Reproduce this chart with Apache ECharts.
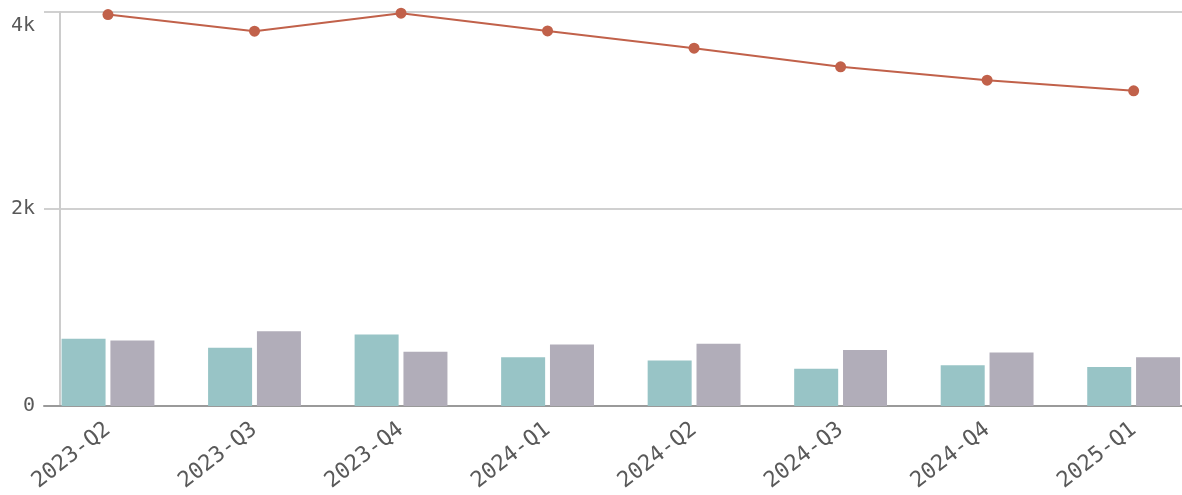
<!DOCTYPE html>
<html><head><meta charset="utf-8">
<script src="https://cdn.jsdelivr.net/npm/echarts@6/dist/echarts.min.js"></script>
<style>html,body{margin:0;padding:0;background:#fff}#c{width:1182px;height:495px}</style>
</head><body><div id="c"></div>
<script>
const categories = ['2023-Q2','2023-Q3','2023-Q4','2024-Q1','2024-Q2','2024-Q3','2024-Q4','2025-Q1'];
const barA = [682, 591, 725, 495, 461, 377, 413, 397];
const barB = [666, 760, 550, 624, 631, 568, 542, 495];
const lineC = [3974, 3805, 3988, 3808, 3633, 3443, 3308, 3200];

const idx = categories.map((_, i) => i);
const pair = arr => arr.map((v, i) => [i, v]);
const font = '"DejaVu Sans Mono", monospace';

const chart = echarts.init(document.getElementById('c'), null, {renderer: 'canvas'});
chart.setOption({
  animation: false,
  grid: {left: 44, right: 0, top: 12, bottom: 89, containLabel: false},
  xAxis: {
    type: 'value', min: -0.4367, max: 7.33,
    axisLine: {show: true, onZero: false, lineStyle: {color: '#9a9a9a', width: 2}},
    axisTick: {show: false},
    splitLine: {show: false},
    axisLabel: {
      customValues: idx,
      formatter: v => categories[Math.round(v)] || '',
      rotate: 38, color: '#595959', fontSize: 22, fontFamily: font, margin: 21
    }
  },
  yAxis: {
    type: 'value', min: 0, max: 4000, interval: 2000, offset: -16,
    axisLine: {show: true, onZero: false, lineStyle: {color: '#cccccc', width: 2}},
    axisTick: {show: false},
    splitLine: {show: true, lineStyle: {color: '#d0d0d0', width: 2}},
    axisLabel: {
      color: '#595959', fontSize: 20, fontFamily: font, margin: 25,
      lineHeight: 28,
      verticalAlignMaxLabel: 'top',
      formatter: v => v === 0 ? '0' : (v / 1000) + 'k'
    }
  },
  series: [
    {type: 'bar', data: pair(barA), barWidth: 44, barGap: '11%', itemStyle: {color: '#98c4c6'}},
    {type: 'bar', data: pair(barB), barWidth: 44, barGap: '11%', itemStyle: {color: '#b1adb9'}},
    {type: 'line', data: pair(lineC), symbol: 'circle', symbolSize: 11,
     lineStyle: {color: '#c1614a', width: 2}, itemStyle: {color: '#c1614a'}, z: 5}
  ]
});
</script></body></html>
